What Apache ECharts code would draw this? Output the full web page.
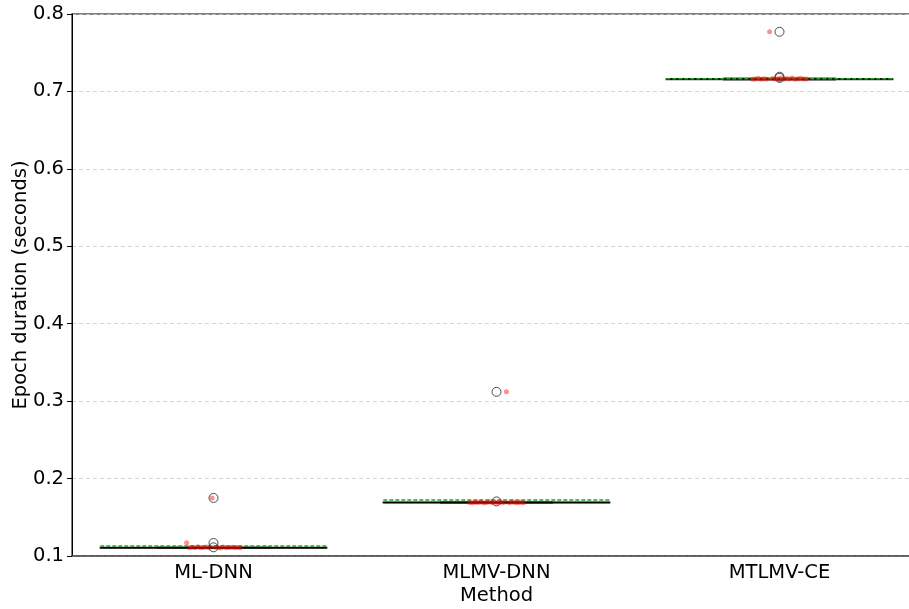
<!DOCTYPE html>
<html>
<head>
<meta charset="utf-8">
<script src="https://cdn.jsdelivr.net/npm/echarts@6/dist/echarts.min.js"></script>
<style>
  html, body { margin: 0; padding: 0; background: #fff; }
  #chart { width: 909px; height: 609px; }
</style>
</head>
<body>
<div id="chart"></div>
<script>
// data
var categories = ['ML-DNN', 'MLMV-DNN', 'MTLMV-CE'];
var yTicks = [0.1, 0.2, 0.3, 0.4, 0.5, 0.6, 0.7, 0.8];

var whiskerLow = [0.1100, 0.1685, 0.7150];
var q1 = [0.1104, 0.1688, 0.7155];
var medians = [0.1107, 0.1690, 0.7160];
var q3 = [0.1110, 0.1694, 0.7165];
var whiskerHigh = [0.1114, 0.1698, 0.7170];
var means = [0.1129, 0.1723, 0.7163];

// outliers: [group, value]
var outliers = [
    [0, 0.175], [0, 0.1168], [0, 0.1112],
    [1, 0.312], [1, 0.1705],
    [2, 0.777], [2, 0.7190], [2, 0.7175]
];

// strip points (jitter offset inside the group, value)
var jitter = [-0.095, -0.085, -0.075, -0.065, -0.055, -0.045, -0.035, -0.025, -0.015, -0.005,
              0.005, 0.015, 0.025, 0.035, 0.045, 0.055, 0.065, 0.075, 0.085, 0.095];
var stripML = [0.1170, 0.1105, 0.1112, 0.1108, 0.1120, 0.1106, 0.1110, 0.1115, 0.1107, 0.1750,
               0.1113, 0.1109, 0.1104, 0.1116, 0.1108, 0.1110, 0.1112, 0.1106, 0.1109, 0.1105];
var stripMLMV = [0.1692, 0.1688, 0.1695, 0.1690, 0.1697, 0.1686, 0.1691, 0.1700, 0.1689, 0.1694,
                 0.1687, 0.1693, 0.1690, 0.3120, 0.1688, 0.1696, 0.1691, 0.1689, 0.1694, 0.1688];
var stripMTLMV = [0.7158, 0.7162, 0.7170, 0.7156, 0.7165, 0.7160, 0.7772, 0.7168, 0.7159, 0.7163,
                  0.7172, 0.7157, 0.7166, 0.7161, 0.7175, 0.7158, 0.7164, 0.7169, 0.7160, 0.7162];

function stripPoints(group, values) {
    var pts = [];
    for (var i = 0; i < values.length; i++) {
        pts.push([group + jitter[i], values[i]]);
    }
    return pts;
}

var boxData = categories.map(function (c, i) {
    return [i, whiskerLow[i], q1[i], medians[i], q3[i], whiskerHigh[i], means[i]];
});

var font = 'DejaVu Sans';
var fontSize = 19.5;

function renderBox(params, api) {
    var i = api.value(0);
    var pt = function (x, y) { return api.coord([x, y]); };
    var lo = api.value(1), a = api.value(2), med = api.value(3), b = api.value(4), hi = api.value(5), mean = api.value(6);
    var stroke = '#3f3f3f';
    var children = [];
    var tl = pt(i - 0.4, b), br = pt(i + 0.4, a);
    children.push({
        type: 'rect',
        shape: {x: tl[0], y: tl[1], width: br[0] - tl[0], height: Math.max(br[1] - tl[1], 0.5)},
        style: {fill: '#3f3f3f', stroke: stroke, lineWidth: 1.5}
    });
    [[pt(i, a), pt(i, lo)], [pt(i, b), pt(i, hi)],
     [pt(i - 0.2, lo), pt(i + 0.2, lo)], [pt(i - 0.2, hi), pt(i + 0.2, hi)]].forEach(function (s) {
        children.push({
            type: 'line',
            shape: {x1: s[0][0], y1: s[0][1], x2: s[1][0], y2: s[1][1]},
            style: {stroke: stroke, lineWidth: 1.5}
        });
    });
    var m1 = pt(i - 0.4, med), m2 = pt(i + 0.4, med);
    children.push({
        type: 'line',
        shape: {x1: m1[0], y1: m1[1], x2: m2[0], y2: m2[1]},
        style: {stroke: '#000', lineWidth: 1.5}
    });
    var e1 = pt(i - 0.4, mean), e2 = pt(i + 0.4, mean);
    children.push({
        type: 'line',
        shape: {x1: e1[0], y1: e1[1], x2: e2[0], y2: e2[1]},
        style: {stroke: '#22a222', lineWidth: 1.5, lineDash: [4, 2]}
    });
    return {type: 'group', children: children};
}

var chart = echarts.init(document.getElementById('chart'));
chart.setOption({
    animation: false,
    backgroundColor: '#fff',
    grid: {
        left: 72, right: -12, top: 14, bottom: 53,
        outerBoundsMode: 'none', containLabel: false,
        show: true, borderColor: '#555', borderWidth: 1.5
    },
    xAxis: [{
        type: 'category',
        data: categories,
        name: 'Method',
        nameLocation: 'middle',
        nameGap: 30,
        nameMoveOverlap: false,
        nameTextStyle: {fontFamily: font, fontSize: fontSize, color: '#000'},
        axisLine: {lineStyle: {color: '#555', width: 1.5}},
        axisTick: {alignWithLabel: true, length: 5, lineStyle: {color: '#000'}},
        axisLabel: {fontFamily: font, fontSize: fontSize, color: '#000', margin: 7}
    }, {
        type: 'value',
        min: -0.5,
        max: 2.5,
        show: false
    }],
    yAxis: {
        type: 'value',
        min: yTicks[0],
        max: yTicks[yTicks.length - 1],
        interval: 0.1,
        name: 'Epoch duration (seconds)',
        nameLocation: 'middle',
        nameGap: 41,
        nameMoveOverlap: false,
        nameTextStyle: {fontFamily: font, fontSize: fontSize, color: '#000'},
        axisLine: {show: true, onZero: false, lineStyle: {color: '#000'}},
        axisTick: {show: true, length: 5, lineStyle: {color: '#000'}},
        axisLabel: {
            fontFamily: font, fontSize: fontSize, color: '#000', margin: 8,
            formatter: function (v) { return v.toFixed(1); }
        },
        splitLine: {show: true, lineStyle: {color: '#cccccc', type: [4, 3], width: 0.8}}
    },
    series: [{
        type: 'custom',
        xAxisIndex: 1,
        renderItem: renderBox,
        data: boxData,
        z: 2
    }, {
        type: 'scatter',
        xAxisIndex: 1,
        symbol: 'circle',
        symbolSize: 9,
        itemStyle: {color: 'rgba(0,0,0,0)', borderColor: '#222', borderWidth: 1},
        data: outliers,
        z: 3
    }, {
        type: 'scatter',
        xAxisIndex: 1,
        symbolSize: 5,
        itemStyle: {color: 'rgba(255,0,0,0.55)'},
        data: stripPoints(0, stripML).concat(stripPoints(1, stripMLMV), stripPoints(2, stripMTLMV)),
        z: 4
    }]
});
</script>
</body>
</html>
